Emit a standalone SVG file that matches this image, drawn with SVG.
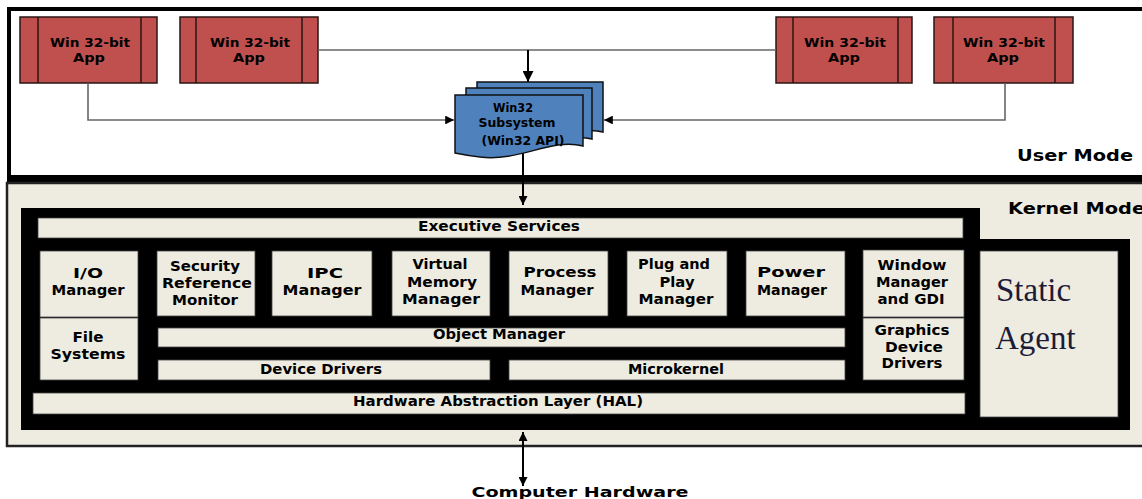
<svg xmlns="http://www.w3.org/2000/svg" width="1142" height="499" viewBox="0 0 1142 499">
  <defs>
    <style>
      .lbl { font-family: "DejaVu Sans", "Liberation Sans", sans-serif; font-weight: bold; font-size: 14px; text-anchor: middle; fill: #000; }
      .app-t { font-size: 13px; }
      .sub-t { font-size: 12px; }
      .mode { font-family: "DejaVu Sans", "Liberation Sans", sans-serif; font-weight: bold; font-size: 16px; fill: #000; }
      .app { fill: #C0504D; stroke: #2a1414; stroke-width: 1.5; }
      .app-line { stroke: #2a1414; stroke-width: 1.5; }
      .page { fill: #4F81BD; stroke: #111; stroke-width: 1.5; }
      .cell { fill: #EEECE1; stroke: #444; stroke-width: 0.8; }
      .conn { fill: none; stroke: #666; stroke-width: 1.6; }
      .conn-dark { fill: none; stroke: #000; stroke-width: 2; }
      .agent { font-family: "Liberation Serif", "Times New Roman", serif; font-size: 33px; fill: #1c1c3a; }
    </style>
    <marker id="arrow" viewBox="0 0 10 10" refX="10" refY="5" markerWidth="4.5" markerHeight="4.5" orient="auto-start-reverse" markerUnits="strokeWidth">
      <path d="M0,0 L10,5 L0,10 Z" fill="#000"/>
    </marker>
    <marker id="arrow-lt" viewBox="0 0 10 10" refX="10" refY="5" markerWidth="5.5" markerHeight="5.5" orient="auto" markerUnits="strokeWidth">
      <path d="M0,0 L10,5 L0,10 Z" fill="#000"/>
    </marker>
  </defs>

  <!-- user mode area -->
  <g id="user-mode">
    <rect x="9" y="9" width="1140" height="170" fill="#fff" stroke="#000" stroke-width="4"/>
    <rect x="7" y="175" width="1140" height="8" fill="#000"/>
    <text class="mode" x="1017" y="161" textLength="116" lengthAdjust="spacingAndGlyphs">User Mode</text>
  </g>

  <!-- kernel mode area -->
  <g id="kernel-mode">
    <rect x="7" y="183" width="1140" height="263" fill="#EEECE1" stroke="#222" stroke-width="2.5"/>
    <text class="mode" x="1008" y="214" textLength="137" lengthAdjust="spacingAndGlyphs">Kernel Mode</text>
  </g>

  <!-- executive frame -->
  <g id="executive-frame">
    <rect x="21" y="208" width="959" height="222" fill="#000"/>
    <rect x="963" y="239" width="167" height="191" fill="#000"/>
  </g>

  <g id="executive-services">
    <rect class="cell" x="38" y="218" width="925" height="20"/>
    <text class="lbl" x="499" y="231" textLength="162" lengthAdjust="spacingAndGlyphs">Executive Services</text>
  </g>

  <g id="io-manager">
    <rect class="cell" x="40" y="251" width="98" height="66"/>
    <text class="lbl" x="88" y="278" textLength="30" lengthAdjust="spacingAndGlyphs">I/O</text>
    <text class="lbl" x="88" y="295" textLength="73" lengthAdjust="spacingAndGlyphs">Manager</text>
  </g>

  <g id="security-reference-monitor">
    <rect class="cell" x="157" y="251" width="98" height="65"/>
    <text class="lbl" x="205" y="271" textLength="70" lengthAdjust="spacingAndGlyphs">Security</text>
    <text class="lbl" x="207" y="288" textLength="90" lengthAdjust="spacingAndGlyphs">Reference</text>
    <text class="lbl" x="205" y="305" textLength="66" lengthAdjust="spacingAndGlyphs">Monitor</text>
  </g>

  <g id="ipc-manager">
    <rect class="cell" x="272" y="251" width="100" height="65"/>
    <text class="lbl" x="325" y="278" textLength="36" lengthAdjust="spacingAndGlyphs">IPC</text>
    <text class="lbl" x="322" y="295" textLength="79" lengthAdjust="spacingAndGlyphs">Manager</text>
  </g>

  <g id="virtual-memory-manager">
    <rect class="cell" x="392" y="251" width="98" height="65"/>
    <text class="lbl" x="440" y="269" textLength="55" lengthAdjust="spacingAndGlyphs">Virtual</text>
    <text class="lbl" x="442" y="287" textLength="70" lengthAdjust="spacingAndGlyphs">Memory</text>
    <text class="lbl" x="441" y="304" textLength="78" lengthAdjust="spacingAndGlyphs">Manager</text>
  </g>

  <g id="process-manager">
    <rect class="cell" x="509" y="251" width="99" height="65"/>
    <text class="lbl" x="560" y="277" textLength="73" lengthAdjust="spacingAndGlyphs">Process</text>
    <text class="lbl" x="557" y="295" textLength="73" lengthAdjust="spacingAndGlyphs">Manager</text>
  </g>

  <g id="plug-and-play-manager">
    <rect class="cell" x="627" y="251" width="100" height="65"/>
    <text class="lbl" x="674" y="269" textLength="72" lengthAdjust="spacingAndGlyphs">Plug and</text>
    <text class="lbl" x="677" y="287" textLength="35" lengthAdjust="spacingAndGlyphs">Play</text>
    <text class="lbl" x="676" y="304" textLength="75" lengthAdjust="spacingAndGlyphs">Manager</text>
  </g>

  <g id="power-manager">
    <rect class="cell" x="746" y="251" width="99" height="65"/>
    <text class="lbl" x="791" y="277" textLength="68" lengthAdjust="spacingAndGlyphs">Power</text>
    <text class="lbl" x="792" y="295" textLength="70" lengthAdjust="spacingAndGlyphs">Manager</text>
  </g>

  <g id="window-manager-gdi">
    <rect class="cell" x="863" y="250" width="101" height="67"/>
    <text class="lbl" x="912" y="270" textLength="69" lengthAdjust="spacingAndGlyphs">Window</text>
    <text class="lbl" x="912" y="287" textLength="72" lengthAdjust="spacingAndGlyphs">Manager</text>
    <text class="lbl" x="911" y="304" textLength="67" lengthAdjust="spacingAndGlyphs">and GDI</text>
  </g>

  <g id="file-systems">
    <rect class="cell" x="40" y="318" width="98" height="62"/>
    <text class="lbl" x="88" y="342" textLength="31" lengthAdjust="spacingAndGlyphs">File</text>
    <text class="lbl" x="88" y="359" textLength="75" lengthAdjust="spacingAndGlyphs">Systems</text>
  </g>

  <g id="object-manager">
    <rect class="cell" x="158" y="328" width="687" height="19"/>
    <text class="lbl" x="499" y="339" textLength="132" lengthAdjust="spacingAndGlyphs">Object Manager</text>
  </g>

  <g id="device-drivers">
    <rect class="cell" x="158" y="360" width="332" height="20"/>
    <text class="lbl" x="321" y="374" textLength="122" lengthAdjust="spacingAndGlyphs">Device Drivers</text>
  </g>

  <g id="microkernel">
    <rect class="cell" x="509" y="360" width="336" height="20"/>
    <text class="lbl" x="676" y="374" textLength="96" lengthAdjust="spacingAndGlyphs">Microkernel</text>
  </g>

  <g id="graphics-device-drivers">
    <rect class="cell" x="863" y="318" width="101" height="62"/>
    <text class="lbl" x="912" y="335" textLength="75" lengthAdjust="spacingAndGlyphs">Graphics</text>
    <text class="lbl" x="914" y="352" textLength="58" lengthAdjust="spacingAndGlyphs">Device</text>
    <text class="lbl" x="912" y="368" textLength="61" lengthAdjust="spacingAndGlyphs">Drivers</text>
  </g>

  <g id="hal">
    <rect class="cell" x="33" y="393" width="932" height="21"/>
    <text class="lbl" x="498" y="406" textLength="290" lengthAdjust="spacingAndGlyphs">Hardware Abstraction Layer (HAL)</text>
  </g>

  <g id="static-agent">
    <rect class="cell" x="980" y="251" width="138" height="166"/>
    <text class="agent" x="996" y="301">Static</text>
    <text class="agent" x="995" y="349">Agent</text>
  </g>

  <!-- 32-bit applications -->
  <g id="app-1">
    <rect class="app" x="20" y="17" width="137" height="66"/>
    <line class="app-line" x1="38" y1="17" x2="38" y2="83"/>
    <line class="app-line" x1="141" y1="17" x2="141" y2="83"/>
    <text class="lbl app-t" x="90" y="47" textLength="80" lengthAdjust="spacingAndGlyphs">Win 32-bit</text>
    <text class="lbl app-t" x="89" y="62" textLength="32" lengthAdjust="spacingAndGlyphs">App</text>
  </g>
  <g id="app-2">
    <rect class="app" x="180" y="17" width="138" height="66"/>
    <line class="app-line" x1="196" y1="17" x2="196" y2="83"/>
    <line class="app-line" x1="302" y1="17" x2="302" y2="83"/>
    <text class="lbl app-t" x="250" y="47" textLength="80" lengthAdjust="spacingAndGlyphs">Win 32-bit</text>
    <text class="lbl app-t" x="249" y="62" textLength="32" lengthAdjust="spacingAndGlyphs">App</text>
  </g>
  <g id="app-3">
    <rect class="app" x="776" y="17" width="136" height="66"/>
    <line class="app-line" x1="793" y1="17" x2="793" y2="83"/>
    <line class="app-line" x1="898" y1="17" x2="898" y2="83"/>
    <text class="lbl app-t" x="845" y="47" textLength="82" lengthAdjust="spacingAndGlyphs">Win 32-bit</text>
    <text class="lbl app-t" x="844" y="62" textLength="32" lengthAdjust="spacingAndGlyphs">App</text>
  </g>
  <g id="app-4">
    <rect class="app" x="934" y="17" width="139" height="66"/>
    <line class="app-line" x1="953" y1="17" x2="953" y2="83"/>
    <line class="app-line" x1="1055" y1="17" x2="1055" y2="83"/>
    <text class="lbl app-t" x="1004" y="47" textLength="82" lengthAdjust="spacingAndGlyphs">Win 32-bit</text>
    <text class="lbl app-t" x="1003" y="62" textLength="32" lengthAdjust="spacingAndGlyphs">App</text>
  </g>

  <!-- connectors -->
  <g id="connectors">
    <polyline class="conn" points="318,50 776,50"/>
    <line class="conn-dark" x1="528" y1="50" x2="528" y2="82" marker-end="url(#arrow-lt)"/>
    <polyline class="conn" points="88,83 88,120 454,120" marker-end="url(#arrow-lt)"/>
    <polyline class="conn" points="1005,83 1005,120 604,120" marker-end="url(#arrow-lt)"/>
    <line class="conn-dark" x1="523" y1="150" x2="523" y2="205" marker-end="url(#arrow)"/>
    <line class="conn-dark" x1="523" y1="432" x2="523" y2="486" marker-start="url(#arrow)" marker-end="url(#arrow)"/>
  </g>

  <!-- Win32 subsystem: stacked document shape -->
  <g id="win32-subsystem">
    <path class="page" d="M477,82 H603 V132 C575,124 545,148 505,145 C492,144 484,142 477,140 Z"/>
    <path class="page" d="M466,88 H592 V139 C564,131 534,155 494,152 C481,151 473,149 466,147 Z"/>
    <path class="page" d="M455,95 H583 V146 C550,138 520,162 480,157 C468,156 460,154 455,153 Z"/>
    <text class="lbl sub-t" x="513" y="112" textLength="40" lengthAdjust="spacingAndGlyphs">Win32</text>
    <text class="lbl sub-t" x="517" y="127" textLength="77" lengthAdjust="spacingAndGlyphs">Subsystem</text>
    <text class="lbl sub-t" x="523" y="145" textLength="83" lengthAdjust="spacingAndGlyphs">(Win32 API)</text>
  </g>

  <!-- hardware label -->
  <g id="computer-hardware">
    <text class="lbl" x="580" y="497" font-size="15" textLength="217" lengthAdjust="spacingAndGlyphs">Computer Hardware</text>
  </g>
</svg>
